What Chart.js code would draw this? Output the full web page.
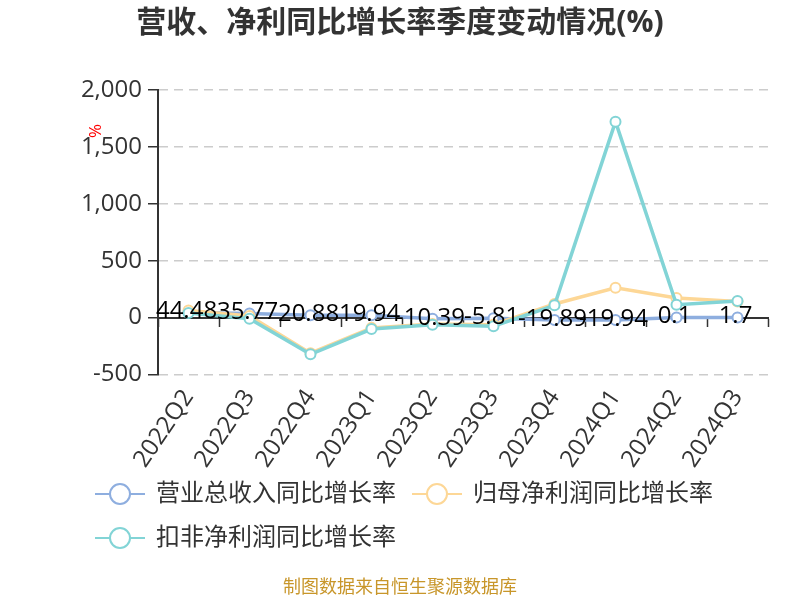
<!DOCTYPE html>
<html lang="zh-CN">
<head>
  <meta charset="UTF-8" />
  <title>营收、净利同比增长率季度变动情况</title>
  <script src="https://cdn.jsdelivr.net/npm/chart.js"></script>
  <style>
    body { margin: 0; background: #fff; }
    #wrap { width: 800px; height: 600px; }
  </style>
</head>
<body>
  <div id="wrap">
    <canvas id="growthChart" width="800" height="600"></canvas>
  </div>

  <script>
    // 季度与三条同比增长率 (%)
    const quarters = ['2022Q2', '2022Q3', '2022Q4', '2023Q1', '2023Q2', '2023Q3', '2023Q4', '2024Q1', '2024Q2', '2024Q3'];
    const revenueGrowth = [44.48, 35.77, 20.88, 19.94, -10.39, -5.81, -19.89, -19.94, 0.1, 1.7];
    const netProfitGrowth = [62, 15, -312, -90, -55, -62, 120, 262, 172, 142];
    const deductedProfitGrowth = [40, -10, -322, -100, -62, -76, 108, 1722, 114, 146];
    const seriesNames = ['营业总收入同比增长率', '归母净利润同比增长率', '扣非净利润同比增长率'];
    const seriesColors = ['#8eaedf', '#fdd796', '#82d4d6'];
    const yTickValues = [-500, 0, 500, 1000, 1500, 2000];
    const titleText = '营收、净利同比增长率季度变动情况(%)';
    const sourceText = '制图数据来自恒生聚源数据库';

    const FONT = '"Open Sans", "Noto Sans CJK SC", sans-serif';

    // 图例图标：横线 + 空心圆（画布略宽，图形靠左）
    function legendIcon(color) {
      const c = document.createElement('canvas');
      c.width = 53;
      c.height = 26;
      const g = c.getContext('2d');
      g.strokeStyle = color;
      g.lineWidth = 2;
      g.beginPath();
      g.moveTo(0, 13);
      g.lineTo(50, 13);
      g.stroke();
      g.beginPath();
      g.arc(25, 13, 10, 0, Math.PI * 2);
      g.fillStyle = '#fff';
      g.fill();
      g.stroke();
      return c;
    }
    const icons = seriesColors.map(legendIcon);

    // 营收数值标签
    const valueLabels = {
      id: 'valueLabels',
      afterDatasetsDraw(chart) {
        const meta = chart.getDatasetMeta(0);
        const ctx = chart.ctx;
        ctx.save();
        ctx.font = '24px ' + FONT;
        ctx.fillStyle = '#000';
        ctx.textAlign = 'center';
        ctx.textBaseline = 'middle';
        meta.data.forEach((pt, i) => {
          ctx.fillText(String(revenueGrowth[i]), pt.x - 2, pt.y - 1);
        });
        ctx.restore();
      }
    };

    // 标题、来源、y 轴单位 "%"
    const extraTexts = {
      id: 'extraTexts',
      afterDraw(chart) {
        const area = chart.chartArea;
        const ctx = chart.ctx;
        ctx.save();
        ctx.textAlign = 'center';
        ctx.textBaseline = 'middle';

        ctx.font = 'bold 30px ' + FONT;
        ctx.fillStyle = '#333';
        ctx.fillText(titleText, chart.width / 2, 23);

        ctx.font = '18px ' + FONT;
        ctx.fillStyle = '#c8962a';
        ctx.fillText(sourceText, chart.width / 2, chart.height - 12);

        ctx.translate(area.left - 62, area.top + 41);
        ctx.rotate(-Math.PI / 2);
        ctx.font = '17px ' + FONT;
        ctx.fillStyle = '#ff0000';
        ctx.fillText('%', 0, 0);
        ctx.restore();
      }
    };

    const seriesData = [revenueGrowth, netProfitGrowth, deductedProfitGrowth];

    new Chart(document.getElementById('growthChart'), {
      type: 'line',
      data: {
        labels: quarters,
        datasets: seriesData.map((vals, i) => ({
          label: seriesNames[i],
          data: vals,
          borderColor: seriesColors[i],
          backgroundColor: seriesColors[i],
          borderWidth: 3.5,
          pointRadius: 5,
          pointBorderWidth: 2,
          pointBackgroundColor: '#fff',
          pointBorderColor: seriesColors[i],
          tension: 0,
          order: 3 - i,
          xAxisID: 'x'
        }))
      },
      options: {
        responsive: false,
        animation: false,
        layout: { padding: { left: 79, right: 32, top: 90, bottom: 40 } },
        scales: {
          x: {
            type: 'category',
            position: { y: 0 },
            offset: true,
            ticks: { display: false },
            grid: { drawOnChartArea: false, offset: true, tickLength: 8, tickColor: '#333', tickWidth: 1.5 },
            border: { color: '#333', width: 2 }
          },
          x2: {
            type: 'category',
            position: 'bottom',
            offset: true,
            grid: { display: false },
            border: { display: false },
            afterFit(scale) {
              // 标签可越过轴框向下绘制，避免被裁剪
              scale.height = scale.height - 13;
              scale._computeLabelArea = () => undefined;
            },
            ticks: {
              autoSkip: false,
              minRotation: 56,
              maxRotation: 56,
              padding: 2,
              color: '#333',
              font: { size: 24, family: FONT }
            }
          },
          y: {
            min: yTickValues[0],
            max: yTickValues[yTickValues.length - 1],
            afterBuildTicks(scale) {
              scale.ticks = yTickValues.map(v => ({ value: v }));
            },
            afterFit(scale) {
              scale.width = 79;
            },
            ticks: {
              color: '#333',
              padding: 6,
              font: { size: 24, family: FONT }
            },
            grid: { color: '#cccccc', lineWidth: 1.5, tickLength: 10, tickColor: '#333', tickWidth: 1.5 },
            border: { color: '#333', width: 2, dash: [9, 6] }
          }
        },
        plugins: {
          title: { display: false },
          legend: {
            position: 'bottom',
            align: 'start',
            labels: {
              usePointStyle: true,
              pointStyleWidth: 45,
              padding: 20,
              color: '#333',
              font: { size: 24, family: FONT },
              sort: (a, b) => a.datasetIndex - b.datasetIndex,
              generateLabels(chart) {
                const items = Chart.defaults.plugins.legend.labels.generateLabels(chart);
                items.forEach(it => { it.pointStyle = icons[it.datasetIndex]; });
                return items;
              }
            }
          },
          tooltip: { enabled: false }
        }
      },
      plugins: [valueLabels, extraTexts]
    });
  </script>
</body>
</html>
